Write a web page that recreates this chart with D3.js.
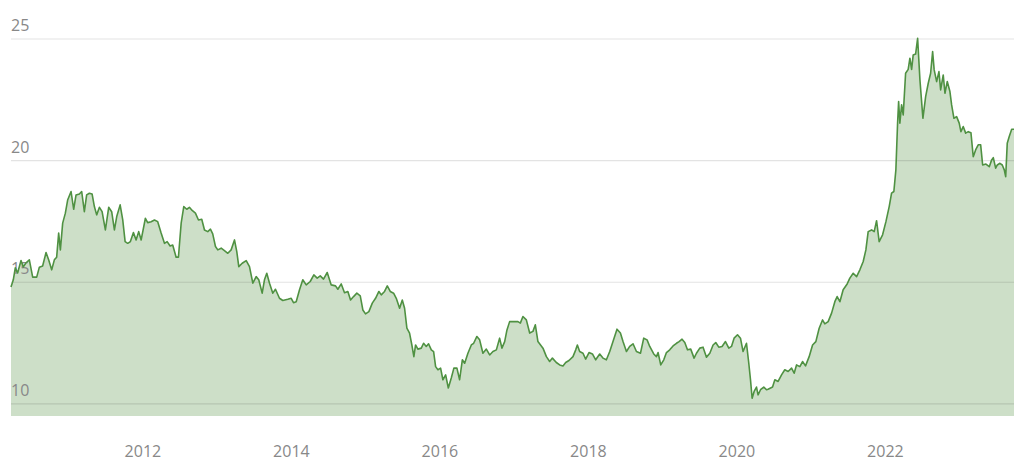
<!DOCTYPE html>
<html>
<head>
<meta charset="utf-8">
<script src="https://cdn.jsdelivr.net/npm/d3@7"></script>
<style>
    body { margin: 0; background: #fff; }
    svg text { font-family: "Open Sans", sans-serif; }
</style>
</head>
<body>
<div id="chart"></div>
<script>
// Dates as decimal years.
var years = [
    2010.230, 2010.261, 2010.288, 2010.319, 2010.365, 2010.396, 2010.433, 2010.477, 2010.522, 2010.576,
    2010.612, 2010.656, 2010.702, 2010.737, 2010.778, 2010.814, 2010.845, 2010.872, 2010.895, 2010.926,
    2010.962, 2010.993, 2011.039, 2011.074, 2011.106, 2011.151, 2011.182, 2011.218, 2011.249, 2011.286,
    2011.322, 2011.353, 2011.384, 2011.421, 2011.457, 2011.501, 2011.546, 2011.586, 2011.623, 2011.654,
    2011.700, 2011.735, 2011.767, 2011.802, 2011.838, 2011.879, 2011.915, 2011.950, 2011.983, 2012.040,
    2012.071, 2012.117, 2012.162, 2012.206, 2012.252, 2012.297, 2012.333, 2012.373, 2012.408, 2012.454,
    2012.485, 2012.522, 2012.557, 2012.597, 2012.633, 2012.670, 2012.714, 2012.755, 2012.799, 2012.836,
    2012.880, 2012.916, 2012.947, 2012.984, 2013.015, 2013.061, 2013.105, 2013.150, 2013.195, 2013.240,
    2013.271, 2013.298, 2013.344, 2013.398, 2013.442, 2013.487, 2013.532, 2013.567, 2013.613, 2013.644,
    2013.675, 2013.712, 2013.756, 2013.792, 2013.846, 2013.891, 2013.958, 2014.004, 2014.035, 2014.071,
    2014.116, 2014.160, 2014.206, 2014.260, 2014.309, 2014.354, 2014.395, 2014.439, 2014.489, 2014.543,
    2014.601, 2014.632, 2014.678, 2014.722, 2014.767, 2014.803, 2014.844, 2014.888, 2014.934, 2014.969,
    2015.005, 2015.050, 2015.096, 2015.140, 2015.185, 2015.217, 2015.261, 2015.298, 2015.338, 2015.383,
    2015.419, 2015.464, 2015.500, 2015.531, 2015.562, 2015.598, 2015.629, 2015.656, 2015.679, 2015.710,
    2015.756, 2015.787, 2015.823, 2015.854, 2015.891, 2015.922, 2015.949, 2015.980, 2016.016, 2016.047,
    2016.084, 2016.120, 2016.160, 2016.195, 2016.236, 2016.272, 2016.309, 2016.340, 2016.384, 2016.430,
    2016.461, 2016.505, 2016.542, 2016.586, 2016.632, 2016.677, 2016.721, 2016.767, 2016.811, 2016.842,
    2016.879, 2016.910, 2016.946, 2017.013, 2017.058, 2017.090, 2017.125, 2017.171, 2017.216, 2017.260,
    2017.292, 2017.327, 2017.395, 2017.441, 2017.485, 2017.522, 2017.575, 2017.620, 2017.664, 2017.701,
    2017.745, 2017.799, 2017.836, 2017.858, 2017.889, 2017.934, 2017.970, 2018.015, 2018.061, 2018.105,
    2018.159, 2018.203, 2018.249, 2018.294, 2018.338, 2018.392, 2018.438, 2018.473, 2018.519, 2018.563,
    2018.608, 2018.654, 2018.708, 2018.752, 2018.797, 2018.833, 2018.887, 2018.923, 2018.945, 2018.981,
    2019.022, 2019.058, 2019.102, 2019.147, 2019.193, 2019.228, 2019.268, 2019.305, 2019.341, 2019.385,
    2019.430, 2019.462, 2019.507, 2019.551, 2019.597, 2019.642, 2019.686, 2019.722, 2019.763, 2019.807,
    2019.853, 2019.898, 2019.934, 2019.969, 2020.015, 2020.055, 2020.090, 2020.136, 2020.167, 2020.190,
    2020.212, 2020.239, 2020.271, 2020.292, 2020.325, 2020.369, 2020.406, 2020.427, 2020.487, 2020.518,
    2020.562, 2020.608, 2020.652, 2020.697, 2020.743, 2020.778, 2020.810, 2020.855, 2020.891, 2020.931,
    2020.980, 2021.026, 2021.070, 2021.115, 2021.160, 2021.191, 2021.236, 2021.282, 2021.326, 2021.357,
    2021.394, 2021.438, 2021.492, 2021.528, 2021.573, 2021.619, 2021.663, 2021.708, 2021.744, 2021.775,
    2021.821, 2021.856, 2021.888, 2021.923, 2021.969, 2022.014, 2022.058, 2022.090, 2022.121, 2022.148,
    2022.171, 2022.185, 2022.202, 2022.225, 2022.247, 2022.279, 2022.314, 2022.337, 2022.360, 2022.381,
    2022.414, 2022.441, 2022.472, 2022.512, 2022.549, 2022.584, 2022.616, 2022.643, 2022.664, 2022.697,
    2022.728, 2022.751, 2022.786, 2022.809, 2022.840, 2022.876, 2022.899, 2022.930, 2022.966, 2023.001,
    2023.024, 2023.055, 2023.088, 2023.123, 2023.159, 2023.190, 2023.222, 2023.257, 2023.290, 2023.317,
    2023.361, 2023.406, 2023.438, 2023.460, 2023.492, 2023.514, 2023.550, 2023.581, 2023.608, 2023.627,
    2023.648, 2023.675, 2023.708, 2023.739
];

var price = [
    14.80, 15.10, 15.59, 15.38, 15.89, 15.63, 15.80, 15.92, 15.21, 15.21,
    15.62, 15.67, 16.22, 15.92, 15.51, 15.92, 16.03, 17.02, 16.33, 17.43,
    17.84, 18.38, 18.73, 18.00, 18.59, 18.63, 18.73, 17.90, 18.59, 18.66,
    18.63, 18.11, 17.77, 18.08, 17.90, 17.15, 18.08, 17.90, 17.15, 17.70,
    18.18, 17.56, 16.67, 16.60, 16.67, 17.04, 16.74, 17.08, 16.74, 17.63,
    17.45, 17.49, 17.56, 17.49, 17.02, 16.60, 16.67, 16.49, 16.53, 16.03,
    16.03, 17.43, 18.11, 18.00, 18.08, 17.95, 17.84, 17.56, 17.59, 17.15,
    17.08, 17.18, 16.99, 16.47, 16.33, 16.40, 16.30, 16.19, 16.33, 16.74,
    16.26, 15.64, 15.78, 15.89, 15.64, 14.96, 15.23, 15.10, 14.55, 15.10,
    15.37, 14.96, 14.55, 14.71, 14.34, 14.25, 14.30, 14.34, 14.16, 14.20,
    14.69, 15.10, 14.89, 15.03, 15.30, 15.17, 15.26, 15.13, 15.40, 14.89,
    14.85, 14.71, 14.93, 14.57, 14.62, 14.27, 14.41, 14.55, 14.44, 13.86,
    13.70, 13.79, 14.14, 14.34, 14.62, 14.48, 14.62, 14.85, 14.62, 14.55,
    14.34, 13.93, 14.27, 13.93, 13.11, 12.91, 12.42, 11.94, 12.42, 12.25,
    12.29, 12.49, 12.36, 12.47, 12.22, 12.15, 11.53, 11.40, 11.47, 10.99,
    11.19, 10.65, 11.06, 11.47, 11.47, 10.99, 11.81, 11.67, 12.08, 12.42,
    12.49, 12.77, 12.63, 12.08, 12.25, 12.01, 12.15, 12.22, 12.70, 12.29,
    12.56, 13.04, 13.38, 13.38, 13.38, 13.32, 13.59, 13.45, 12.91, 12.98,
    13.25, 12.56, 12.29, 11.94, 11.74, 11.88, 11.70, 11.60, 11.56, 11.70,
    11.78, 11.94, 12.22, 12.42, 12.15, 12.08, 11.84, 12.11, 12.05, 11.81,
    12.05, 11.88, 11.81, 12.15, 12.56, 13.07, 12.91, 12.56, 12.15, 12.36,
    12.47, 12.15, 12.08, 12.70, 12.63, 12.36, 12.05, 11.94, 12.11, 11.60,
    11.81, 12.11, 12.22, 12.38, 12.49, 12.56, 12.66, 12.52, 12.22, 12.25,
    11.88, 12.08, 12.29, 12.33, 11.92, 12.08, 12.42, 12.52, 12.33, 12.36,
    12.56, 12.29, 12.36, 12.70, 12.84, 12.70, 12.15, 12.49, 11.67, 10.99,
    10.23, 10.51, 10.69, 10.37, 10.58, 10.69, 10.58, 10.60, 10.69, 10.99,
    10.92, 11.19, 11.40, 11.33, 11.47, 11.26, 11.60, 11.53, 11.74, 11.56,
    11.94, 12.42, 12.56, 13.11, 13.45, 13.29, 13.38, 13.73, 14.20, 14.41,
    14.20, 14.69, 14.93, 15.17, 15.37, 15.23, 15.51, 15.85, 16.33, 17.08,
    17.15, 17.08, 17.53, 16.67, 16.95, 17.49, 18.11, 18.66, 18.73, 19.62,
    21.54, 22.43, 21.54, 22.29, 21.88, 23.59, 23.75, 24.21, 23.75, 24.34,
    24.38, 25.03, 23.32, 21.74, 22.63, 23.18, 23.59, 24.48, 23.73, 23.25,
    23.66, 22.91, 23.52, 22.77, 23.25, 22.84, 22.29, 21.74, 21.81, 21.54,
    21.19, 21.40, 21.13, 21.19, 21.15, 20.16, 20.44, 20.65, 20.65, 19.82,
    19.86, 19.75, 20.03, 20.12, 19.69, 19.82, 19.89, 19.82, 19.62, 19.34,
    20.71, 20.99, 21.29, 21.29
];

var yTicks = [10, 15, 20, 25];
var xTicks = [2012, 2014, 2016, 2018, 2020, 2022];

var width = 1024;
var height = 465;
var m = { left: 11, right: 10, top: 39, bottom: 416 };
var yFloor = 9.5;

var x = d3.scaleLinear()
    .domain(d3.extent(years))
    .range([m.left, width - m.right]);

var y = d3.scaleLinear()
    .domain([yFloor, 25])
    .range([m.bottom, m.top]);

var svg = d3.select("#chart")
    .append("svg")
    .attr("width", width)
    .attr("height", height);

// Filled area under the series.
var area = d3.area()
    .x(function(d, i) { return x(years[i]); })
    .y0(y(yFloor))
    .y1(function(d) { return y(d); });

svg.append("path")
    .datum(price)
    .attr("d", area)
    .style("fill", "#cddfc8");

// Horizontal grid lines, drawn over the fill so they darken it a little.
svg.selectAll("line.grid")
    .data(yTicks)
    .enter().append("line")
    .attr("class", "grid")
    .attr("x1", m.left)
    .attr("x2", width - m.right)
    .attr("y1", function(d) { return y(d); })
    .attr("y2", function(d) { return y(d); })
    .style("stroke", "rgba(0,0,0,0.11)")
    .style("stroke-width", 1.2);

svg.selectAll("text.ylab")
    .data(yTicks)
    .enter().append("text")
    .attr("class", "ylab")
    .attr("x", m.left)
    .attr("y", function(d) { return y(d) - 8; })
    .style("font-size", "16px")
    .style("fill", "#888")
    .text(function(d) { return d; });

// The series line.
var line = d3.line()
    .x(function(d, i) { return x(years[i]); })
    .y(function(d) { return y(d); });

svg.append("path")
    .datum(price)
    .attr("d", line)
    .style("fill", "none")
    .style("stroke", "#4f9142")
    .style("stroke-width", 1.6)
    .style("stroke-linejoin", "round");

// Year labels along the bottom.
var xAxis = d3.axisBottom(x)
    .tickValues(xTicks)
    .tickFormat(d3.format("d"))
    .tickSize(0)
    .tickPadding(30);

var gx = svg.append("g")
    .attr("transform", "translate(0," + m.bottom + ")")
    .call(xAxis);

gx.select(".domain").remove();
gx.selectAll("text")
    .attr("font-family", "Open Sans, sans-serif")
    .style("font-size", "16px")
    .style("fill", "#888");
</script>
</body>
</html>
